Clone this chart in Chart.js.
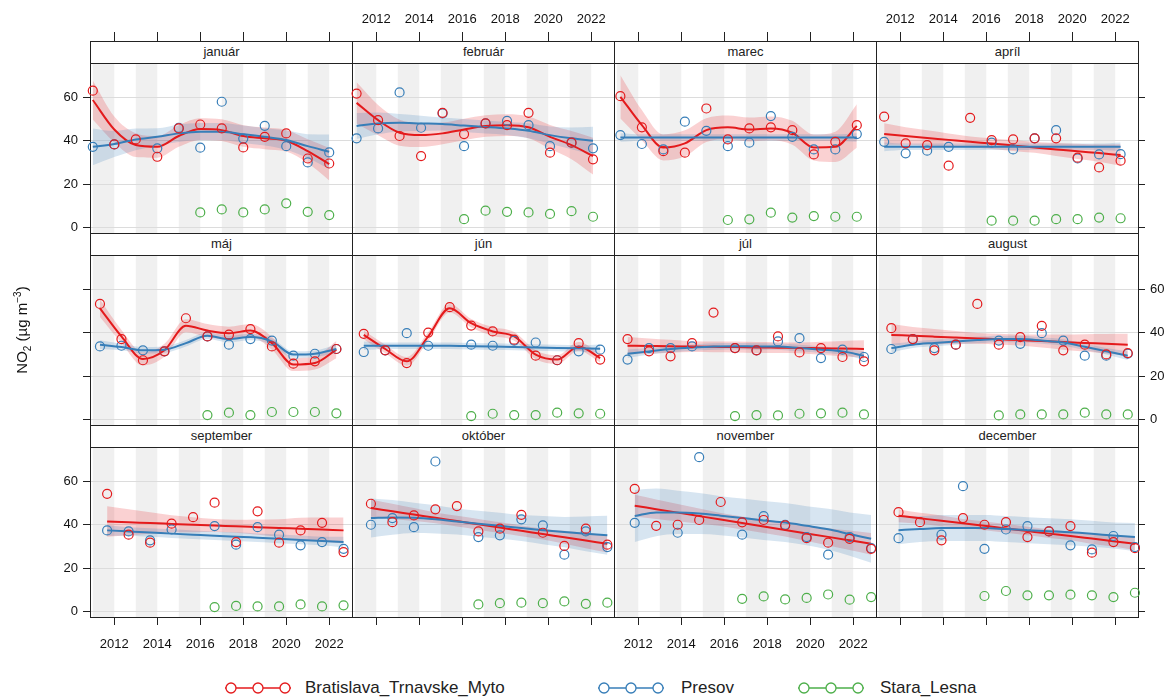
<!DOCTYPE html>
<html>
<head>
<meta charset="utf-8">
<script src="https://cdn.jsdelivr.net/npm/chart.js@4.4.0/dist/chart.umd.min.js"></script>
<style>
  body { margin: 0; background: #fff; font-family: "Liberation Sans", Arial, sans-serif; }
  #wrap { position: relative; width: 1174px; height: 698px; overflow: hidden; }
  #wrap canvas { position: absolute; }
  .strip { position: absolute; box-sizing: border-box; border: 1px solid #222; background: #fff;
           text-align: center; font-size: 13px; line-height: 20px; color: #222; }
  .ytitle { position: absolute; left: 22px; top: 330px; transform: translate(-50%, -50%) rotate(-90deg);
            font-size: 15px; color: #111; white-space: nowrap; }
  .ytitle sub, .ytitle sup { font-size: 10px; }
  .leg { position: absolute; top: 677px; height: 22px; font-size: 17px; line-height: 22px; color: #222; white-space: nowrap; }
  .leg svg { position: absolute; top: 0; }
</style>
</head>
<body>
<div id="wrap"></div>
<script>
"use strict";

const months = ['január', 'február', 'marec', 'apríl', 'máj', 'jún',
                'júl', 'august', 'september', 'október', 'november', 'december'];
const years = [2011, 2012, 2013, 2014, 2015, 2016, 2017, 2018, 2019, 2020, 2021, 2022];
const xTicks = [2012, 2014, 2016, 2018, 2020, 2022];
const yTicks = [0, 20, 40, 60];
const shadedYears = [2011, 2013, 2015, 2017, 2019, 2021];
const seriesNames = ['Bratislava_Trnavske_Myto', 'Presov', 'Stara_Lesna'];

// monthly means, one row per month, one value per year
const bratislava = [
  [63.1, 38.3, 40.6, 32.6, 45.7, 47.5, 45.7, 36.9, 41.8, 43.4, 31.8, 29.5],
  [61.8, 49.5, 42.2, 32.9, 52.9, 43.1, 48.0, 47.2, 52.9, 34.5, 39.1, 31.4],
  [60.6, 46.2, 35.2, 34.5, 54.9, 40.6, 45.7, 46.2, 44.9, 33.7, 39.5, 47.2],
  [51.1, 38.8, 38.0, 28.5, 50.6, 40.3, 40.6, 41.1, 41.1, 32.2, 27.7, 30.8],
  [53.3, 37.1, 27.3, 31.4, 46.7, 38.3, 39.1, 41.7, 33.7, 25.7, 26.8, 32.5],
  [39.5, 31.9, 26.0, 40.1, 51.8, 43.3, 40.6, 36.8, 29.4, 27.3, 35.2, 27.6],
  [37.1, 31.4, 29.1, 35.2, 49.3, 32.9, 31.9, 38.3, 30.9, 32.9, 28.8, 26.8],
  [42.1, 37.1, 31.9, 34.5, 53.3, 34.5, 38.0, 43.2, 31.9, 34.5, 30.0, 30.6],
  [54.3, 35.4, 31.7, 40.5, 43.5, 50.2, 32.0, 46.2, 31.7, 37.4, 40.9, 27.4],
  [49.7, 41.2, 44.3, 47.1, 48.6, 36.9, 38.2, 44.6, 36.3, 30.2, 38.2, 30.8],
  [56.6, 39.5, 40.0, 42.2, 50.5, 41.1, 42.2, 39.7, 33.8, 31.7, 33.5, 28.9],
  [45.8, 41.2, 32.8, 43.1, 40.0, 41.2, 34.3, 36.9, 39.4, 27.1, 32.0, 29.2]
];
const presov = [
  [37.2, 38.3, null, 36.5, 46.0, 36.8, 58.0, 41.0, 46.9, 37.5, 30.0, 34.6],
  [41.1, 45.7, 62.3, 46.0, 52.6, 37.5, 48.0, 49.2, 47.2, 37.5, 39.1, 36.5],
  [42.6, 38.5, 36.0, 48.8, 44.6, 37.5, 39.1, 51.4, 41.8, 36.0, 36.0, 43.1],
  [39.5, 34.2, 35.4, 37.2, null, 39.1, 36.0, 41.1, 44.9, 31.8, 33.7, 33.8],
  [33.7, 34.0, 31.9, 31.4, null, 38.3, 34.5, 37.1, 36.4, 29.4, 30.3, 32.5],
  [31.1, 31.9, 39.8, 34.0, null, 34.5, 34.0, 36.4, 35.5, 27.3, 31.4, 32.2],
  [27.6, 32.9, 32.9, 33.7, null, 32.9, 31.9, 36.0, 37.5, 28.3, 32.2, 28.8],
  [32.5, 37.1, 32.9, 34.5, null, 36.4, 34.9, 39.8, 36.4, 29.4, 29.4, 30.3],
  [37.4, 36.9, 32.8, 37.8, null, 39.4, 30.8, 38.9, 35.4, 30.5, 32.0, 28.9],
  [40.0, 43.1, 38.9, 69.2, null, 34.3, 35.1, 42.5, 39.7, 26.2, 36.9, 29.7],
  [40.9, null, 36.3, 71.2, null, 35.4, 44.0, 40.0, 34.3, 26.2, 34.3, 29.2],
  [33.8, null, 35.4, 57.8, 28.9, 37.8, 39.4, 36.9, 30.5, 28.6, 34.8, 29.7]
];
const staraLesna = [
  [null, null, null, null, null, 6.9, 8.3, 6.9, 8.3, 11.1, 7.2, 5.7],
  [null, null, null, null, null, 3.8, 7.7, 7.2, 6.9, 6.2, 7.5, 4.9],
  [null, null, null, null, null, 3.4, 3.7, 6.8, 4.5, 5.2, 4.9, 4.9],
  [null, null, null, null, null, 3.1, 3.1, 3.1, 3.8, 3.8, 4.5, 4.2],
  [null, null, null, null, null, 2.0, 3.1, 2.0, 3.4, 3.4, 3.4, 2.8],
  [null, null, null, null, null, 1.5, 2.6, 2.0, 2.0, 3.1, 2.8, 2.6],
  [null, null, null, null, null, 1.5, 2.0, 1.8, 2.6, 2.8, 3.1, 2.3],
  [null, null, null, null, null, 1.8, 2.3, 2.3, 2.3, 3.1, 2.3, 2.3],
  [null, null, null, null, null, 2.0, 2.5, 2.3, 2.3, 3.2, 2.3, 2.8],
  [null, null, null, null, null, 3.2, 3.8, 4.0, 3.8, 4.6, 3.5, 4.0],
  [null, null, null, null, null, 5.8, 6.9, 5.5, 6.2, 7.8, 5.4, 6.6],
  [null, null, null, null, 7.1, 9.4, 7.4, 7.4, 7.7, 7.4, 6.6, 8.6]
];

const bratislavaFit = [
  [58.8, 45.2, 38.0, 37.2, 42.2, 45.4, 44.9, 42.2, 41.1, 40.0, 35.2, 29.2],
  [57.5, 49.5, 43.7, 42.6, 43.4, 45.2, 46.8, 47.2, 46.2, 41.8, 38.0, 32.9],
  [60.3, 47.2, 36.9, 38.8, 44.9, 46.2, 45.2, 45.7, 43.7, 36.9, 37.2, 46.8],
  [43.1, 42.2, 41.3, 40.4, 39.5, 38.7, 37.8, 36.9, 36.0, 35.1, 34.3, 33.4],
  [51.3, 38.3, 27.9, 31.9, 43.2, 41.0, 39.8, 41.0, 35.2, 25.3, 26.0, 32.2],
  [39.0, 32.5, 26.8, 38.3, 51.3, 44.4, 40.6, 38.3, 29.9, 27.6, 33.7, 28.3],
  [34.0, 33.9, 33.8, 33.6, 33.5, 33.4, 33.2, 33.1, 33.0, 32.8, 32.7, 32.5],
  [39.0, 38.6, 38.2, 37.8, 37.4, 37.0, 36.6, 36.2, 35.7, 35.3, 34.9, 34.5],
  [41.5, 41.1, 40.8, 40.4, 40.0, 39.6, 39.3, 38.9, 38.5, 38.2, 37.8, 37.4],
  [47.7, 46.2, 44.7, 43.2, 41.7, 40.2, 38.7, 37.2, 35.7, 34.2, 32.7, 31.2],
  [48.8, 47.2, 45.6, 44.0, 42.4, 40.8, 39.2, 37.6, 36.0, 34.4, 32.8, 31.2],
  [44.2, 43.0, 41.8, 40.7, 39.5, 38.3, 37.1, 35.9, 34.8, 33.6, 32.4, 31.2]
];
const bratislavaBand = [
  [9.0, 6.0, 5.5, 5.0, 5.0, 5.0, 5.0, 5.0, 5.0, 5.0, 5.5, 7.5],
  [9.5, 7.0, 6.0, 5.5, 5.0, 5.0, 5.0, 5.0, 5.0, 5.5, 6.5, 8.5],
  [10.0, 7.0, 6.0, 6.0, 5.5, 5.5, 5.5, 5.5, 5.5, 6.0, 7.0, 10.0],
  [5.0, 4.0, 3.5, 3.0, 2.5, 2.5, 2.5, 2.5, 3.0, 3.5, 4.0, 5.0],
  [4.0, 3.0, 3.0, 3.0, 3.0, 3.0, 3.0, 3.0, 3.0, 3.0, 3.0, 4.0],
  [2.0, 2.0, 2.0, 2.0, 2.0, 2.0, 2.0, 2.0, 2.0, 2.0, 2.0, 2.0],
  [4.0, 3.5, 3.0, 2.5, 2.5, 2.5, 2.5, 2.5, 2.5, 3.0, 3.5, 4.0],
  [5.0, 4.0, 3.5, 3.0, 2.5, 2.5, 2.5, 3.0, 3.5, 4.0, 4.5, 5.0],
  [7.0, 6.0, 5.0, 4.0, 3.5, 3.0, 3.0, 3.5, 4.0, 5.0, 5.5, 6.0],
  [4.0, 3.5, 3.0, 2.5, 2.5, 2.5, 2.5, 2.5, 2.5, 3.0, 3.5, 4.0],
  [5.0, 4.5, 4.0, 3.5, 3.0, 3.0, 3.0, 3.0, 3.5, 4.0, 4.5, 5.0],
  [3.0, 2.5, 2.5, 2.0, 2.0, 2.0, 2.0, 2.0, 2.0, 2.5, 2.5, 3.0]
];
const presovFit = [
  [37.2, 38.5, 40.6, 41.8, 43.4, 44.2, 44.2, 43.0, 41.8, 40.3, 37.5, 34.9],
  [46.8, 48.0, 48.3, 48.0, 47.7, 47.0, 46.4, 45.7, 44.6, 42.6, 41.1, 40.0],
  [41.5, 41.5, 41.5, 41.5, 41.5, 41.5, 41.5, 41.5, 41.5, 41.5, 41.5, 41.5],
  [37.2, 37.2, 37.2, 37.2, 37.2, 37.2, 37.2, 37.2, 37.2, 37.2, 37.2, 37.2],
  [34.5, 33.4, 31.9, 32.2, 35.2, 38.6, 37.1, 38.0, 36.0, 29.9, 30.3, 32.5],
  [34.0, 34.0, 34.0, 34.0, 34.0, 33.8, 33.6, 33.4, 33.2, 33.0, 32.8, 32.6],
  [30.3, 31.4, 32.5, 33.2, 33.7, 33.8, 33.7, 33.6, 32.9, 32.2, 31.4, 29.4],
  [32.9, 34.5, 35.3, 36.0, 36.6, 37.1, 37.1, 36.4, 35.5, 33.5, 31.5, 29.4],
  [37.4, 36.9, 36.4, 35.9, 35.4, 34.9, 34.5, 34.0, 33.5, 33.0, 32.5, 32.0],
  [43.1, 43.4, 43.2, 42.5, 41.5, 40.5, 39.5, 38.5, 37.5, 36.6, 35.8, 35.1],
  [44.0, 45.7, 45.7, 45.2, 44.2, 43.1, 42.0, 41.0, 39.5, 37.9, 35.7, 33.5],
  [37.5, 38.0, 38.5, 38.5, 38.5, 38.0, 37.5, 37.0, 36.5, 35.8, 35.0, 34.3]
];
const presovBand = [
  [8.5, 6.0, 5.0, 4.0, 4.0, 4.0, 4.0, 4.0, 4.0, 4.5, 5.5, 8.0],
  [6.0, 5.0, 4.0, 3.5, 3.0, 3.0, 3.0, 3.0, 3.5, 4.0, 5.0, 6.5],
  [2.0, 1.5, 1.5, 1.5, 1.5, 1.5, 1.5, 1.5, 1.5, 1.5, 1.5, 2.0],
  [2.0, 1.5, 1.5, 1.5, 1.5, 1.5, 1.5, 1.5, 1.5, 1.5, 1.5, 2.0],
  [2.0, 1.5, 1.5, 1.5, 1.5, 1.5, 1.5, 1.5, 1.5, 1.5, 1.5, 2.0],
  [2.0, 1.5, 1.5, 1.5, 1.5, 1.5, 1.5, 1.5, 1.5, 1.5, 1.5, 2.0],
  [2.0, 1.5, 1.5, 1.5, 1.5, 1.5, 1.5, 1.5, 1.5, 1.5, 1.5, 2.0],
  [2.0, 1.5, 1.5, 1.5, 1.5, 1.5, 1.5, 1.5, 1.5, 1.5, 1.5, 2.0],
  [2.5, 2.0, 2.0, 2.0, 2.0, 2.0, 2.0, 2.0, 2.0, 2.0, 2.0, 2.5],
  [9.0, 8.0, 7.0, 6.5, 6.0, 6.0, 6.0, 6.0, 6.5, 7.0, 8.0, 9.0],
  [12.0, 11.0, 10.0, 9.5, 9.0, 9.0, 9.0, 9.0, 9.0, 9.5, 10.0, 11.0],
  [6.5, 6.0, 6.0, 6.0, 6.0, 6.0, 6.0, 6.0, 6.0, 6.0, 6.0, 6.5]
];

const RED = '#E41A1C', BLUE = '#377EB8', GREEN = '#4DAF4A';
const X_MIN = 2010.87, X_MAX = 2023.06, Y_MIN = -2.6, Y_MAX = 75.9;

// panel grid (page pixels)
const colLeft = [90, 352, 614, 876];
const rowTop = [63, 255, 447];
const panelW = 262, panelH = 170, stripH = 22;
const ML = 40, MR = 40, MT = 60, MB = 40;

Chart.defaults.font.family = '"Liberation Sans", Arial, sans-serif';
Chart.defaults.font.size = 13;
Chart.defaults.color = '#111';

const shade = {
  id: 'shade',
  beforeDraw(chart) {
    const { ctx, chartArea: a, scales: { x } } = chart;
    ctx.save();
    ctx.fillStyle = '#f0f0f0';
    shadedYears.forEach(y => {
      const x0 = x.getPixelForValue(y), x1 = x.getPixelForValue(y + 1);
      ctx.fillRect(x0, a.top, x1 - x0, a.bottom - a.top);
    });
    ctx.restore();
  }
};

function points(vals, xs, color) {
  return {
    data: vals.map((v, j) => ({ x: xs[j], y: v })).filter(p => p.y !== null),
    showLine: false, borderColor: color, backgroundColor: 'transparent',
    pointRadius: 4.5, pointHoverRadius: 4.5, pointBorderWidth: 1.2,
    clip: false, order: 0
  };
}

function trend(fit, xs, color, order) {
  return {
    data: fit.map((v, j) => ({ x: xs[j], y: v })),
    borderColor: color, borderWidth: 2, pointRadius: 0,
    cubicInterpolationMode: 'monotone', fill: false, order: order
  };
}

function band(fit, hw, xs, fillColor, order) {
  const edge = sign => ({
    data: fit.map((v, j) => ({ x: xs[j], y: v + sign * hw[j] })),
    borderColor: 'transparent', borderWidth: 0, pointRadius: 0,
    cubicInterpolationMode: 'monotone', order: order
  });
  const up = edge(1);
  up.fill = false;
  const lo = edge(-1);
  lo.fill = '-1';
  lo.backgroundColor = fillColor;
  return [up, lo];
}

function xAxis(pos, marks, labels, tickLen, pad, size) {
  return {
    type: 'linear', position: pos, min: X_MIN, max: X_MAX,
    afterBuildTicks: s => { s.ticks = xTicks.map(v => ({ value: v })); },
    afterFit: s => { s.height = size; },
    border: { display: true, color: '#222', width: 1 },
    grid: { drawOnChartArea: false, drawTicks: true, tickLength: tickLen,
            color: 'transparent', tickColor: marks ? '#222' : 'transparent' },
    ticks: { display: labels, padding: pad, maxRotation: 0, autoSkip: false,
             callback: v => String(v) }
  };
}

function yAxis(pos, marks, labels, gridOn, size) {
  return {
    type: 'linear', position: pos, min: Y_MIN, max: Y_MAX,
    afterBuildTicks: s => { s.ticks = yTicks.map(v => ({ value: v })); },
    afterFit: s => { s.width = size; },
    border: { display: true, color: '#222', width: 1 },
    grid: { drawOnChartArea: gridOn, drawTicks: true, tickLength: 7,
            color: gridOn ? '#dcdcdc' : 'transparent', tickColor: marks ? '#222' : 'transparent' },
    ticks: { display: labels, padding: 5, callback: v => String(v) }
  };
}

const wrap = document.getElementById('wrap');

months.forEach((name, i) => {
  const row = Math.floor(i / 4), col = i % 4;
  const xs = years.map(y => y + i / 12);

  const cv = document.createElement('canvas');
  cv.width = panelW + ML + MR;
  cv.height = panelH + MT + MB;
  cv.style.left = (colLeft[col] - ML) + 'px';
  cv.style.top = (rowTop[row] - MT) + 'px';
  wrap.appendChild(cv);

  const datasets = [
    ...band(bratislavaFit[i], bratislavaBand[i], xs, 'rgba(228,26,28,0.2)', 4),
    ...band(presovFit[i], presovBand[i], xs, 'rgba(55,126,184,0.2)', 3),
    trend(bratislavaFit[i], xs, RED, 2),
    trend(presovFit[i], xs, BLUE, 1),
    points(bratislava[i], xs, RED),
    points(presov[i], xs, BLUE),
    points(staraLesna[i], xs, GREEN)
  ];

  new Chart(cv, {
    type: 'line',
    data: { datasets: datasets },
    plugins: [shade],
    options: {
      responsive: false,
      animation: false,
      events: [],
      devicePixelRatio: 1,
      layout: { padding: 0, autoPadding: false },
      plugins: { legend: { display: false }, tooltip: { enabled: false } },
      scales: {
        x: xAxis('bottom', row === 2, row === 2 && col % 2 === 0, 8, 12, MB),
        x2: xAxis('top', row === 0, row === 0 && col % 2 === 1, stripH + 9, 5, MT),
        y: yAxis('left', col === 0, col === 0 && row !== 1, true, ML),
        y2: yAxis('right', col === 3, col === 3 && row === 1, false, MR)
      }
    }
  });

  const strip = document.createElement('div');
  strip.className = 'strip';
  strip.style.left = colLeft[col] + 'px';
  strip.style.top = (rowTop[row] - stripH) + 'px';
  strip.style.width = (panelW + 1) + 'px';
  strip.style.height = (stripH + 1) + 'px';
  strip.textContent = name;
  wrap.appendChild(strip);
});

const yt = document.createElement('div');
yt.className = 'ytitle';
yt.innerHTML = 'NO<sub>2</sub> (µg m<sup>−3</sup>)';
wrap.appendChild(yt);

// legend
const legendPos = [[224, 305], [597, 681], [797, 880]];
[RED, BLUE, GREEN].forEach((c, k) => {
  const sym = document.createElement('div');
  sym.className = 'leg';
  sym.style.left = legendPos[k][0] + 'px';
  sym.innerHTML = '<svg width="68" height="22"><line x1="1" y1="11" x2="67" y2="11" stroke="' + c +
    '" stroke-width="1.3"/>' + [7, 34, 61].map(cx =>
      '<circle cx="' + cx + '" cy="11" r="5" fill="#fff" stroke="' + c + '" stroke-width="1.3"/>').join('') + '</svg>';
  wrap.appendChild(sym);
  const txt = document.createElement('div');
  txt.className = 'leg';
  txt.style.left = legendPos[k][1] + 'px';
  txt.textContent = seriesNames[k];
  wrap.appendChild(txt);
});
</script>
</body>
</html>
